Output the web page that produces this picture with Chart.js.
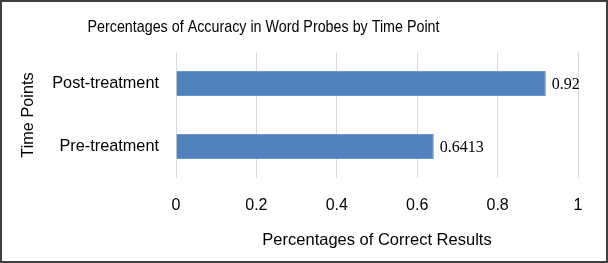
<!DOCTYPE html>
<html>
<head>
<meta charset="utf-8">
<script src="https://cdn.jsdelivr.net/npm/chart.js@4"></script>
<style>
  html, body { margin: 0; padding: 0; background: #fff; }
  #wrap { width: 608px; height: 263px; box-sizing: border-box; border: 2px solid #404040; }
  canvas { display: block; }
</style>
</head>
<body>
<div id="wrap"><canvas id="myChart" width="604" height="259"></canvas></div>
<script>
// カテゴリと値
const timePoints = ["Post-treatment", "Pre-treatment"];
const accuracy = [0.92, 0.6413];
const xTicks = [0, 0.2, 0.4, 0.6, 0.8, 1];
const chartTitle = "Percentages of Accuracy in Word Probes by Time Point";

const sans = "'Liberation Sans', Arial, sans-serif";

// タイトル（少し左寄り）
const titleText = {
  id: "titleText",
  afterDraw(chart) {
    const ctx = chart.ctx;
    ctx.save();
    ctx.font = "14.3px " + sans;
    ctx.fillStyle = "#000";
    ctx.textAlign = "center";
    ctx.textBaseline = "middle";
    ctx.translate(261.5, 26);
    ctx.scale(1, 1.1);
    ctx.fillText(chartTitle, 0, 0);
    ctx.restore();
  }
};

// バーの右に値を書く
const valueLabels = {
  id: "valueLabels",
  afterDatasetsDraw(chart) {
    const ctx = chart.ctx;
    const meta = chart.getDatasetMeta(0);
    ctx.save();
    ctx.font = "16px 'Liberation Serif', 'Times New Roman', serif";
    ctx.fillStyle = "#000";
    ctx.textAlign = "left";
    ctx.textBaseline = "middle";
    meta.data.forEach((bar, i) => {
      ctx.fillText(String(accuracy[i]), bar.x + 6, bar.y + 1);
    });
    ctx.restore();
  }
};

const ctx = document.getElementById("myChart").getContext("2d");
const myChart = new Chart(ctx, {
  type: "bar",
  data: {
    labels: timePoints,
    datasets: [
      {
        data: accuracy,
        backgroundColor: "#4f81bd",
        borderColor: "#6a96cc",
        borderWidth: 1,
        categoryPercentage: 1,
        barPercentage: 0.4,
      },
    ],
  },
  options: {
    indexAxis: "y",
    responsive: false,
    animation: false,
    layout: { padding: { left: 17, right: 28, top: 50, bottom: 11 } },
    plugins: {
      legend: { display: false },
      tooltip: { enabled: false },
      title: { display: false },
    },
    scales: {
      x: {
        min: 0,
        max: 1,
        afterBuildTicks(axis) {
          axis.ticks = xTicks.map((v) => ({ value: v }));
        },
        afterFit(axis) {
          axis.height = 72;
        },
        ticks: {
          color: "#000",
          font: { family: sans, size: 16 },
          padding: 18,
          callback: (v) => String(v),
        },
        grid: { color: "#d9d9d9", drawTicks: false },
        border: { display: false },
        title: {
          display: true,
          text: "Percentages of Correct Results",
          color: "#000",
          font: { family: sans, size: 16.5 },
          padding: { top: 15, bottom: 0 },
        },
      },
      y: {
        afterFit(axis) {
          axis.width = 157;
        },
        ticks: {
          color: "#000",
          font: { family: sans, size: 16.3 },
          padding: 17,
        },
        grid: { display: false, drawTicks: false },
        border: { display: false },
        title: {
          display: true,
          text: "Time Points",
          color: "#000",
          font: { family: sans, size: 16.3 },
          padding: 0,
        },
      },
    },
  },
  plugins: [valueLabels, titleText],
});
</script>
</body>
</html>
